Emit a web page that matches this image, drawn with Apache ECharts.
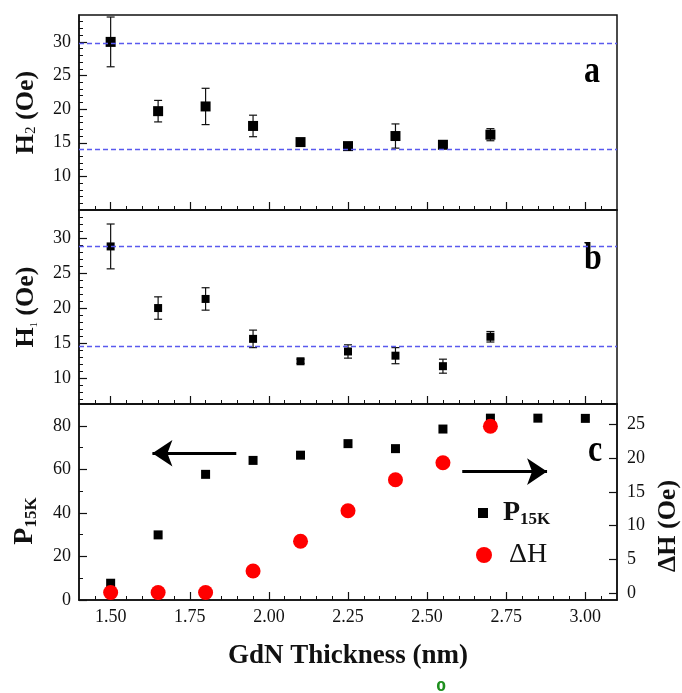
<!DOCTYPE html>
<html><head><meta charset="utf-8">
<script src="https://cdn.jsdelivr.net/npm/echarts@6/dist/echarts.min.js"></script>
<style>html,body{margin:0;padding:0;background:#fff}#c{width:682px;height:693px}</style>
</head><body><div id="c"></div>
<script>
// ---- data ----
const thickness = [1.50, 1.65, 1.80, 1.95, 2.10, 2.25, 2.40, 2.55, 2.70, 2.85, 3.00];
const h2Values = [30.0, 19.7, 20.4, 17.5, 15.1, 14.5, 16.0, 14.7, 16.2];
const h2Errors = [3.7, 1.6, 2.7, 1.6, 0.5, 0.4, 1.8, 0.3, 0.9];
const h2RefLines = [29.75, 14.1];
const h1Values = [28.8, 20.0, 21.3, 15.6, 12.4, 13.8, 13.2, 11.7, 15.9];
const h1Errors = [3.2, 1.6, 1.6, 1.25, 0.3, 0.95, 1.15, 1.0, 0.75];
const h1RefLines = [28.8, 14.6];
const p15kValues = [7.7, 29.9, 57.7, 64.1, 66.5, 71.8, 69.5, 78.5, 83.5, 83.5, 83.4];
const deltaHValues = [0.1, 0.1, 0.1, 3.3, 7.7, 12.2, 16.8, 19.3, 24.7];
const xTickLabels = ['1.50', '1.75', '2.00', '2.25', '2.50', '2.75', '3.00'];
const hTickLabels = [10, 15, 20, 25, 30];
const pTickLabels = [0, 20, 40, 60, 80];
const dhTickLabels = [0, 5, 10, 15, 20, 25];

// ---- helpers ----
const FONT = 'Liberation Serif';
const INK = '#111';
const lineSt = {color: INK, width: 1.5};

function xPair(grid, showLabels) {
  const majors = xTickLabels.map(Number);
  const minors = [];
  for (let k = 29; k <= 61; k++) { const v = k / 20; if (!majors.some(m => Math.abs(m - v) < 1e-9)) minors.push(v); }
  return [
    {gridIndex: grid, type: 'value', min: 1.4, max: 3.1, position: 'bottom',
     axisLine: {show: true, onZero: false, lineStyle: lineSt},
     axisTick: {show: true, inside: true, length: 4, customValues: minors, lineStyle: {color: INK, width: 1}},
     axisLabel: {show: false}, splitLine: {show: false}},
    {gridIndex: grid, type: 'value', min: 1.4, max: 3.1, position: 'bottom',
     axisLine: {show: false, onZero: false},
     axisTick: {show: true, inside: true, length: 8, customValues: majors, lineStyle: {color: INK, width: 1.2}},
     axisLabel: {show: showLabels, customValues: majors, formatter: v => v.toFixed(2), fontFamily: FONT, fontSize: 18, color: INK, margin: 8},
     splitLine: {show: false}}
  ];
}
function yPair(grid, min, max, majors, minors, extra) {
  return [
    {gridIndex: grid, type: 'value', min: min, max: max, position: 'left',
     axisLine: {show: true, onZero: false, lineStyle: lineSt},
     axisTick: {show: true, inside: true, length: 4, customValues: minors, lineStyle: {color: INK, width: 1}},
     axisLabel: {show: false}, splitLine: {show: false}},
    Object.assign({gridIndex: grid, type: 'value', min: min, max: max, position: 'left',
     axisLine: {show: false, onZero: false},
     axisTick: {show: true, inside: true, length: 8, customValues: majors, lineStyle: {color: INK, width: 1.2}},
     axisLabel: {show: true, customValues: majors, fontFamily: FONT, fontSize: 18, color: INK, margin: 8},
     splitLine: {show: false}}, extra || {})
  ];
}
function intsExcept(a, b, step) { const r = []; for (let v = a; v <= b; v += step) if (v % 5 !== 0) r.push(v); return r; }

function errRender(params, api) {
  const x = api.value(0), y = api.value(1), e = api.value(2);
  const t = api.coord([x, y + e]), b = api.coord([x, y - e]);
  const w = 4, st = {stroke: '#111', lineWidth: 1.2};
  return {type: 'group', children: [
    {type: 'line', shape: {x1: t[0], y1: t[1], x2: b[0], y2: b[1]}, style: st},
    {type: 'line', shape: {x1: t[0] - w, y1: t[1], x2: t[0] + w, y2: t[1]}, style: st},
    {type: 'line', shape: {x1: b[0] - w, y1: b[1], x2: b[0] + w, y2: b[1]}, style: st}
  ]};
}
function refLine(vals) {
  return {silent: true, symbol: 'none', label: {show: false}, emphasis: {disabled: true},
    lineStyle: {color: '#5a5aee', width: 1.3, type: [5, 3]}, data: vals.map(v => ({yAxis: v}))};
}
function arrowLine(from, to) {
  return {silent: true, symbol: ['none', 'arrow'], symbolSize: 20, label: {show: false}, emphasis: {disabled: true},
    lineStyle: {color: '#000', width: 3, type: 'solid', opacity: 1}, data: [[{coord: from}, {coord: to}]]};
}

const nameStyle = (sub) => ({fontFamily: FONT, fontWeight: 'bold', fontSize: 26, color: INK,
  rich: {s: {fontFamily: FONT, fontWeight: 'normal', fontSize: sub, color: INK, verticalAlign: 'bottom', lineHeight: 8}}});

const gridBase = {left: 79, right: 65, show: true, borderColor: INK, borderWidth: 1.5, backgroundColor: 'transparent'};

const xAxes = [...xPair(0, false), ...xPair(1, false), ...xPair(2, true)];
xAxes[5].name = 'GdN Thickness (nm)';
xAxes[5].nameLocation = 'middle';
xAxes[5].nameGap = 43;
xAxes[5].nameTextStyle = {fontFamily: FONT, fontWeight: 'bold', fontSize: 27, color: INK};

const yAxes = [
  ...yPair(0, 5, 34, hTickLabels, intsExcept(6, 33, 1),
    {name: 'H{s|2} (Oe)', nameLocation: 'middle', nameRotate: 90, nameGap: 40, nameTextStyle: nameStyle(15)}),
  ...yPair(1, 6.3, 34, hTickLabels, intsExcept(7, 33, 1),
    {name: 'H{s|1} (Oe)', nameLocation: 'middle', nameRotate: 90, nameGap: 40, nameTextStyle: nameStyle(10)}),
  ...yPair(2, 0, 90, pTickLabels, [10, 30, 50, 70], {}),
  {gridIndex: 2, type: 'value', min: -1, max: 28, position: 'right',
   axisLine: {show: true, onZero: false, lineStyle: lineSt},
   axisTick: {show: true, inside: true, length: 8, customValues: dhTickLabels, lineStyle: {color: INK, width: 1.2}},
   axisLabel: {show: true, customValues: dhTickLabels, fontFamily: FONT, fontSize: 18, color: INK, margin: 10},
   splitLine: {show: false}}
];

const panelFont = 'bold 32px "Liberation Serif"';
const option = {
  animation: false,
  backgroundColor: '#fff',
  grid: [
    Object.assign({top: 15, height: 195}, gridBase),
    Object.assign({top: 210, height: 194}, gridBase),
    Object.assign({top: 404, height: 196}, gridBase)
  ],
  xAxis: xAxes,
  yAxis: yAxes,
  legend: [
    {data: ['P15K'], left: 473, top: 494, itemWidth: 10, itemHeight: 10, icon: 'rect', selectedMode: false,
     formatter: () => '{p|P}{s|15K}',
     textStyle: {padding: [0, 0, 0, 10], rich: {
       p: {fontFamily: FONT, fontWeight: 'bold', fontSize: 28, color: INK, lineHeight: 30},
       s: {fontFamily: FONT, fontWeight: 'bold', fontSize: 17, color: INK, verticalAlign: 'bottom', lineHeight: 7}}}},
    {data: ['ΔH'], left: 471, top: 536, itemWidth: 16, itemHeight: 16, icon: 'circle', selectedMode: false,
     textStyle: {padding: [0, 0, 0, 12], fontFamily: FONT, fontSize: 28, color: INK}}
  ],
  graphic: [
    {type: 'text', x: 592, y: 72, scaleY: 1.2, style: {text: 'a', font: panelFont, fill: '#000', align: 'center', verticalAlign: 'middle'}},
    {type: 'text', x: 593, y: 259, scaleY: 1.2, style: {text: 'b', font: panelFont, fill: '#000', align: 'center', verticalAlign: 'middle'}},
    {type: 'text', x: 595, y: 451, scaleY: 1.2, style: {text: 'c', font: panelFont, fill: '#000', align: 'center', verticalAlign: 'middle'}},
    {type: 'text', x: 25, y: 521, rotation: Math.PI / 2, style: {text: '{p|P}{s|15K}', align: 'center', verticalAlign: 'middle', rich: {
       p: {fontFamily: FONT, fontWeight: 'bold', fontSize: 28, fill: INK, lineHeight: 30},
       s: {fontFamily: FONT, fontWeight: 'bold', fontSize: 17, fill: INK, verticalAlign: 'bottom', lineHeight: 7}}}},
    {type: 'text', x: 668, y: 526, rotation: Math.PI / 2, style: {text: 'ΔH (Oe)', font: 'bold 26px "Liberation Serif"', fill: INK, align: 'center', verticalAlign: 'middle'}},
    {type: 'text', x: 441, y: 687, style: {text: '0', font: 'bold 14px "DejaVu Sans"', fill: '#1e8f1e', align: 'center', verticalAlign: 'middle'}}
  ],
  series: [
    {type: 'custom', name: 'H2 err', xAxisIndex: 1, yAxisIndex: 1, renderItem: errRender, z: 2,
     data: h2Values.map((v, i) => [thickness[i], v, h2Errors[i]])},
    {type: 'scatter', name: 'H2', xAxisIndex: 1, yAxisIndex: 1, symbol: 'rect', symbolSize: 10, z: 3,
     itemStyle: {color: '#000', opacity: 1},
     data: h2Values.map((v, i) => [thickness[i], v]), markLine: refLine(h2RefLines)},
    {type: 'custom', name: 'H1 err', xAxisIndex: 3, yAxisIndex: 3, renderItem: errRender, z: 2,
     data: h1Values.map((v, i) => [thickness[i], v, h1Errors[i]])},
    {type: 'scatter', name: 'H1', xAxisIndex: 3, yAxisIndex: 3, symbol: 'rect', symbolSize: 8, z: 3,
     itemStyle: {color: '#000', opacity: 1},
     data: h1Values.map((v, i) => [thickness[i], v]), markLine: refLine(h1RefLines)},
    {type: 'scatter', name: 'P15K', xAxisIndex: 5, yAxisIndex: 5, symbol: 'rect', symbolSize: 9, z: 3,
     itemStyle: {color: '#000', opacity: 1},
     data: p15kValues.map((v, i) => [thickness[i], v]),
     markLine: arrowLine([1.897, 67.4], [1.632, 67.4])},
    {type: 'scatter', name: 'ΔH', xAxisIndex: 5, yAxisIndex: 6, symbol: 'circle', symbolSize: 15, z: 4,
     itemStyle: {color: '#ff0000', opacity: 1},
     data: deltaHValues.map((v, i) => [thickness[i], v]),
     markLine: arrowLine([2.611, 18.0], [2.879, 18.0])}
  ]
};
const chart = echarts.init(document.getElementById('c'), null, {renderer: 'canvas'});
chart.setOption(option);
</script></body></html>
